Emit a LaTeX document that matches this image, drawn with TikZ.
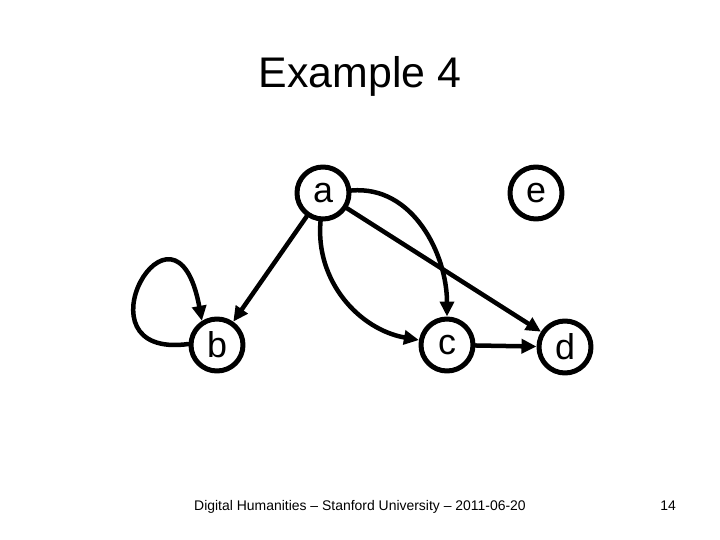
\documentclass[tikz,border=0pt]{standalone}
\usepackage{fontspec}
\setmainfont{Liberation Sans}
\usetikzlibrary{arrows.meta,positioning}

\tikzset{
    vertex/.style={circle,draw,line width=5bp,minimum size=52bp,inner sep=0pt,
        font=\fontsize{36}{36}\selectfont},
    edge/.style={->,line width=4.5bp}
}

\begin{document}
\begin{tikzpicture}[x=1bp,y=-1bp,line cap=round,line join=round,>={Triangle[length=15bp,width=14bp]}]

        \useasboundingbox (0,0) rectangle (720,540);

        % --- Title ---
        \node[anchor=base] (title) at (360,88) {\fontsize{43}{48}\selectfont Example 4};

        % --- Vertices ---
        \node[vertex] (a) at (323,193) {a};
        \node[vertex] (e) at (536,193) {e};
        \node[vertex] (b) at (217,345) {b};
        \node[vertex] (c) at (447,345) {c};
        \node[vertex] (d) at (565,347) {d};

        % Straight edges
        \draw[edge] (a) -- (b);
        \draw[edge] (a) -- (d);
        \draw[edge] (c) -- (d);

        % Curved edges from a to c
        \draw[edge] (a.-95) to[out=-95,in=170] (c);
        \draw[edge] (a.5) to[out=5,in=90] (c);

        % Self loop at b
        \draw[edge] (b.178) .. controls (70,360) and (175,175) .. (b.122);

        % --- Footer ---
        \node[anchor=base] (footer) at (360,510) {\fontsize{14}{16}\selectfont Digital Humanities -- Stanford University -- 2011-06-20};
        \node[anchor=base] (page) at (668,510) {\fontsize{14}{16}\selectfont 14};

\end{tikzpicture}
\end{document}
